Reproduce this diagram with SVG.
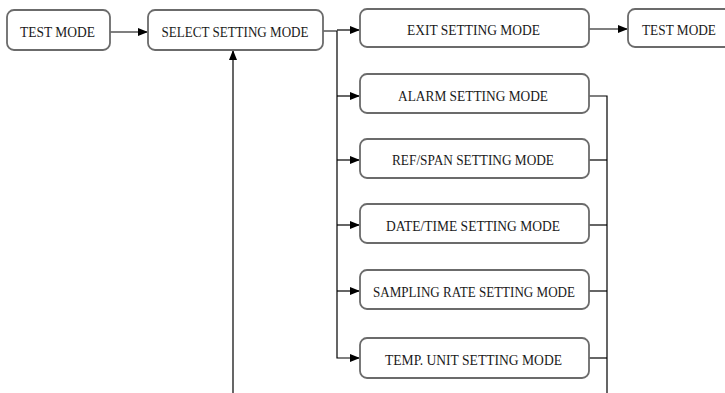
<svg xmlns="http://www.w3.org/2000/svg" width="725" height="393" viewBox="0 0 725 393">
<style>
.box{fill:#fff;stroke:#6b6b6b;stroke-width:1.8}
.t{font-family:"Liberation Serif","Times New Roman",serif;font-size:14px;fill:#1a1a1a;text-anchor:middle}
.c{fill:none;stroke:#000;stroke-width:1.2}
</style>
<defs>
<marker id="ah" markerWidth="10" markerHeight="8" refX="9" refY="4" orient="auto" markerUnits="userSpaceOnUse">
<path d="M0,0 L10,4 L0,8 Z" fill="#000"/>
</marker>
</defs>
<rect width="725" height="393" fill="#fff"/>
<g id="connectors">
<path class="c" d="M110,32 H147" marker-end="url(#ah)"/>
<path class="c" d="M323,31 H337 V358 H359" marker-end="url(#ah)"/>
<path class="c" d="M337,30 H359" marker-end="url(#ah)"/>
<path class="c" d="M337,96 H359" marker-end="url(#ah)"/>
<path class="c" d="M337,160 H359" marker-end="url(#ah)"/>
<path class="c" d="M337,225 H359" marker-end="url(#ah)"/>
<path class="c" d="M337,291 H359" marker-end="url(#ah)"/>
<path class="c" d="M589,29 H627" marker-end="url(#ah)"/>
<path class="c" d="M589,96 H607 V393"/>
<path class="c" d="M589,160 H607"/>
<path class="c" d="M589,225 H607"/>
<path class="c" d="M589,291 H607"/>
<path class="c" d="M589,358 H607"/>
<path class="c" d="M233,393 V51" marker-end="url(#ah)"/>
</g>
<g id="test-mode-1"><rect class="box" x="7" y="10" width="103" height="40" rx="7"/><text class="t" x="57.5" y="37" textLength="75" lengthAdjust="spacingAndGlyphs">TEST MODE</text></g>
<g id="select-setting-mode"><rect class="box" x="148" y="10" width="175" height="40" rx="7"/><text class="t" x="235" y="37" textLength="147" lengthAdjust="spacingAndGlyphs">SELECT SETTING MODE</text></g>
<g id="exit-setting-mode"><rect class="box" x="360" y="9" width="229" height="38" rx="7"/><text class="t" x="473.5" y="35" textLength="133" lengthAdjust="spacingAndGlyphs">EXIT SETTING MODE</text></g>
<g id="test-mode-2"><rect class="box" x="628" y="9" width="110" height="38" rx="7"/><text class="t" x="679" y="35" textLength="74" lengthAdjust="spacingAndGlyphs">TEST MODE</text></g>
<g id="alarm-setting-mode"><rect class="box" x="360" y="74" width="229" height="39" rx="7"/><text class="t" x="473" y="101" textLength="150" lengthAdjust="spacingAndGlyphs">ALARM SETTING MODE</text></g>
<g id="ref-span-setting-mode"><rect class="box" x="360" y="139" width="229" height="39" rx="7"/><text class="t" x="473" y="165" textLength="162" lengthAdjust="spacingAndGlyphs">REF/SPAN SETTING MODE</text></g>
<g id="date-time-setting-mode"><rect class="box" x="360" y="204" width="229" height="39" rx="7"/><text class="t" x="473" y="231" textLength="174" lengthAdjust="spacingAndGlyphs">DATE/TIME SETTING MODE</text></g>
<g id="sampling-rate-setting-mode"><rect class="box" x="360" y="270" width="229" height="39" rx="7"/><text class="t" x="474" y="297" textLength="202" lengthAdjust="spacingAndGlyphs">SAMPLING RATE SETTING MODE</text></g>
<g id="temp-unit-setting-mode"><rect class="box" x="360" y="338" width="229" height="40" rx="7"/><text class="t" x="473.5" y="365" textLength="177" lengthAdjust="spacingAndGlyphs">TEMP. UNIT SETTING MODE</text></g>
</svg>
